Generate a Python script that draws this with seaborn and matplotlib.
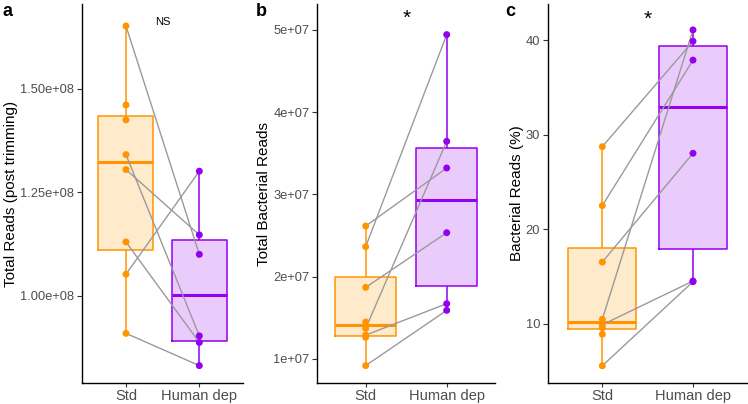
import numpy as np
import pandas as pd
import matplotlib
matplotlib.use('Agg')
import matplotlib.pyplot as plt
import seaborn as sns
from matplotlib.colors import to_rgb

groups = ['Std', 'Human dep']

# panel a: total reads (post trimming)
std_a = [1.652e8, 1.461e8, 1.425e8, 1.341e8, 1.305e8, 1.130e8, 1.052e8, 0.909e8]
std_a_pair = [0, -1, -1, 1, 2, 3, 4, 5]
hd_a = [1.100e8, 0.903e8, 1.147e8, 0.887e8, 1.301e8, 0.831e8]

# panel b: total bacterial reads
std_b = [2.615e7, 2.364e7, 1.870e7, 1.449e7, 1.372e7, 1.290e7, 1.263e7, 0.920e7]
std_b_pair = [0, 1, 2, -1, 3, 4, -1, 5]
hd_b = [3.320e7, 4.940e7, 2.534e7, 3.644e7, 1.672e7, 1.591e7]

# panel c: bacterial reads (%)
std_c = [28.74, 22.5, 16.53, 10.47, 9.89, 9.57, 8.88, 5.55]
std_c_pair = [0, 1, 2, 3, 4, -1, -1, 5]
hd_c = [39.9, 37.9, 28.04, 41.1, 14.52, 14.45]

ylabels = ['Total Reads (post trimming)', 'Total Bacterial Reads', 'Bacterial Reads (%)']
yticks = [[1.00e8, 1.25e8, 1.50e8], [1e7, 2e7, 3e7, 4e7, 5e7], [10, 20, 30, 40]]
yticklabels = [['1.00e+08', '1.25e+08', '1.50e+08'],
               ['1e+07', '2e+07', '3e+07', '4e+07', '5e+07'],
               ['10', '20', '30', '40']]
ylims = [(0.7897e8, 1.704e8), (0.712e7, 5.306e7), (3.755, 43.79)]
sig_labels = ['NS', '*', '*']
sig_y = [1.662e8, 5.14e7, 42.25]
panel_letters = ['a', 'b', 'c']

dark = ['#FF9400', '#9400F0']
light = [tuple(1 - 0.2 * (1 - np.array(to_rgb(c)))) for c in dark]

plt.rcParams['font.family'] = ['Liberation Sans', 'DejaVu Sans']

fig = plt.figure(figsize=(7.48, 4.04), dpi=100)
boxes = [(0.1096, 0.3253), (0.4239, 0.6622), (0.7325, 0.9992)]
bottom, top = 0.0527, 0.9889
letter_x = [0.004, 0.342, 0.676]

panels = [(std_a, std_a_pair, hd_a), (std_b, std_b_pair, hd_b), (std_c, std_c_pair, hd_c)]

for i, (std, std_pair, hd) in enumerate(panels):
    l, r = boxes[i]
    ax = fig.add_axes([l, bottom, r - l, top - bottom])
    df = pd.DataFrame({
        'group': ['Std'] * len(std) + ['Human dep'] * len(hd),
        'value': std + hd,
        'pair': std_pair + list(range(len(hd))),
    })
    df['pos'] = pd.Categorical(df['group'], categories=groups).codes

    # filled boxes (face only), then outlines on top
    sns.boxplot(data=df, x='group', y='value', hue='group', order=groups, hue_order=groups,
                palette=light, saturation=1, width=0.75, showfliers=False, showcaps=False,
                linewidth=0, legend=False, ax=ax)
    sns.boxplot(data=df, x='group', y='value', hue='group', order=groups, hue_order=groups,
                palette=dark, saturation=1, fill=False, width=0.75, showfliers=False,
                showcaps=False, linewidth=1.1, medianprops={'linewidth': 2.2},
                legend=False, ax=ax)

    paired = df[df['pair'] >= 0]
    sns.lineplot(data=paired, x='pos', y='value', units='pair', estimator=None,
                 color='#9a9a9a', linewidth=1.0, legend=False, ax=ax, zorder=3)

    sns.stripplot(data=df, x='group', y='value', hue='group', order=groups, hue_order=groups,
                  palette=dark, jitter=False, size=5, linewidth=0, legend=False,
                  ax=ax, zorder=4)

    ax.set_xlim(-0.6, 1.6)
    ax.set_ylim(*ylims[i])
    ax.set_xticks(range(len(groups)), groups)
    ax.set_yticks(yticks[i], yticklabels[i])
    ax.set_xlabel('')
    ax.set_ylabel(ylabels[i], fontsize=11, color='black', labelpad=1.5)
    ax.tick_params(axis='y', labelsize=9.3, labelcolor='#4D4D4D', color='#333333',
                   length=3.5, width=0.8, pad=2)
    ax.tick_params(axis='x', labelsize=10.5, labelcolor='#4D4D4D', color='#333333',
                   length=3, width=0.8, pad=1.5)
    for s in ['top', 'right']:
        ax.spines[s].set_visible(False)
    for s in ['left', 'bottom']:
        ax.spines[s].set_color('black')
        ax.spines[s].set_linewidth(1.0)
    ax.set_facecolor('white')

    if sig_labels[i] == 'NS':
        ax.text(0.5, sig_y[i], 'NS', ha='center', va='center', fontsize=8, color='black')
    else:
        ax.text(0.5, sig_y[i], '*', ha='center', va='center', fontsize=15, color='black')

    fig.text(letter_x[i], 0.992, panel_letters[i], fontsize=13, fontweight='bold',
             ha='left', va='top')

fig.savefig('out.png', dpi=100, facecolor='white')
